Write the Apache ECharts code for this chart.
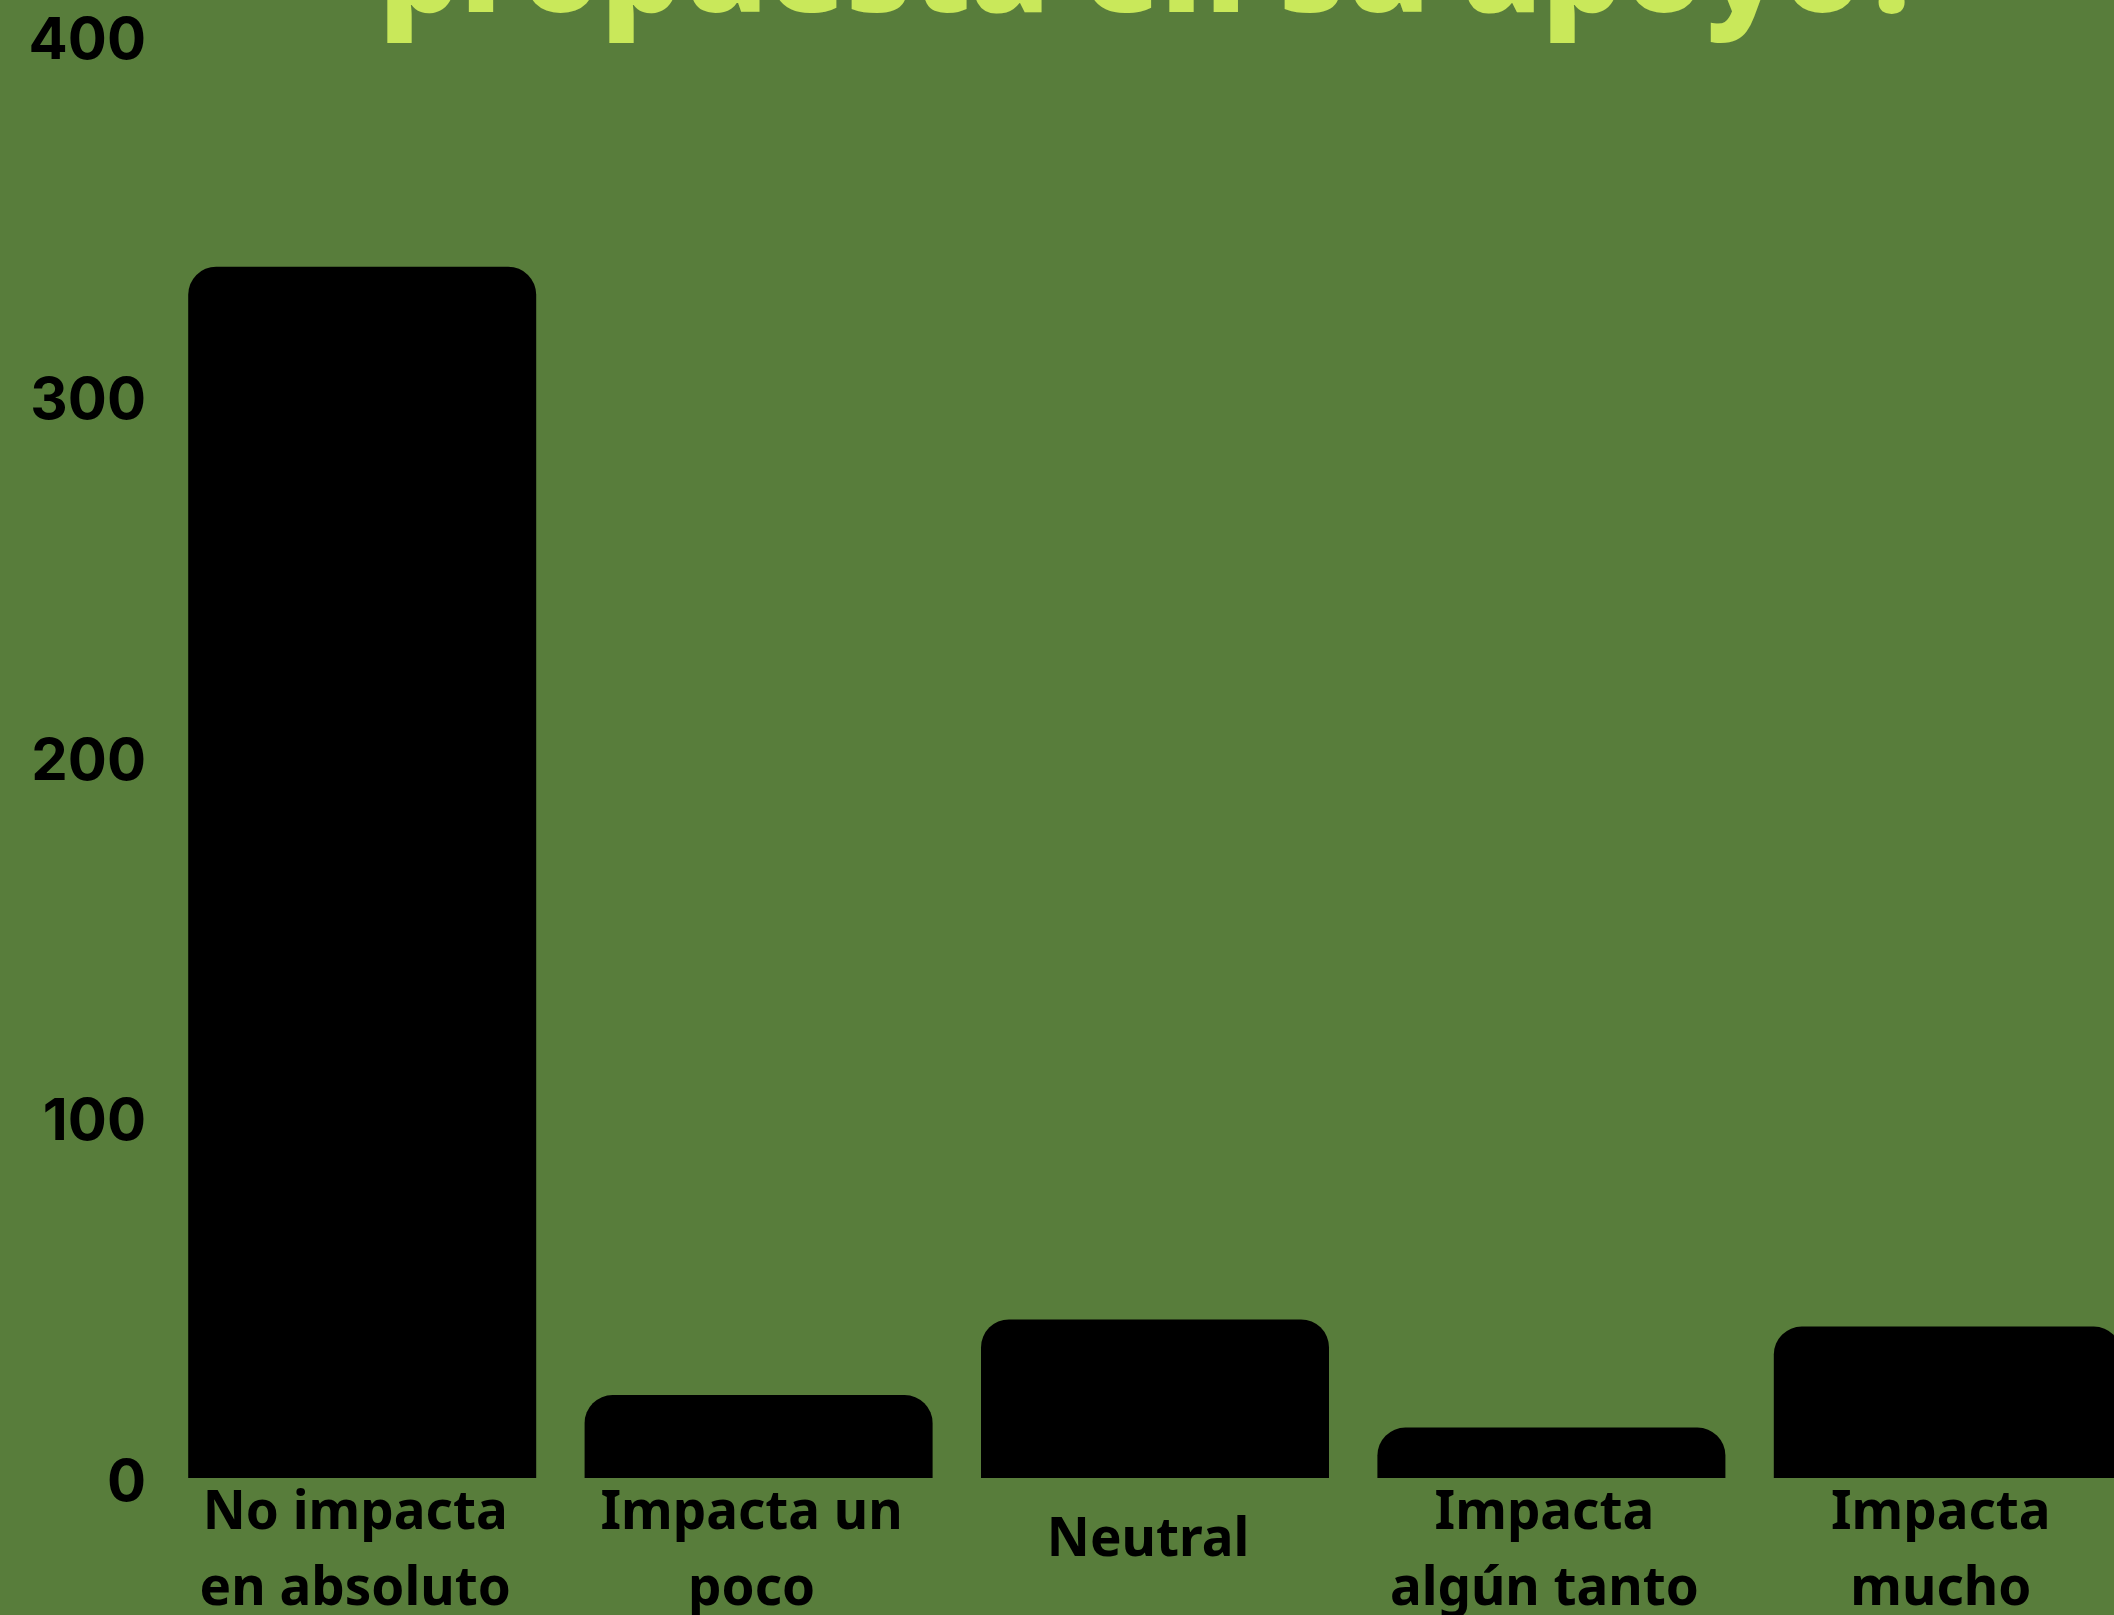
<!DOCTYPE html>
<html>
<head>
<meta charset="utf-8">
<script src="https://cdn.jsdelivr.net/npm/echarts@6/dist/echarts.min.js"></script>
<style>
html,body{margin:0;padding:0;background:#587d3b;}
#chart{width:2114px;height:1615px;}
</style>
</head>
<body>
<div id="chart"></div>
<script>
var titleLine = 'propuesta en su apoyo?';
var categories = ['No impacta\nen absoluto', 'Impacta un\npoco', 'Neutral', 'Impacta\nalgún tanto', 'Impacta\nmucho'];
var values = [336, 23, 44, 14, 42];
var yTicks = [0, 100, 200, 300, 400];

var chart = echarts.init(document.getElementById('chart'));
chart.setOption({
  backgroundColor: '#587d3b',
  animation: false,
  grid: { left: 164, right: -32, top: 36, bottom: 137, containLabel: false, outerBoundsMode: 'none' },
  graphic: [{
    type: 'text',
    x: 1153,
    y: -24,
    style: {
      text: titleLine,
      x: 0, y: 0,
      textAlign: 'center',
      textVerticalAlign: 'middle',
      fill: '#c9e85a',
      font: '800 127px "Open Sans"'
    }
  }],
  xAxis: {
    type: 'category',
    data: categories,
    axisLine: { show: false },
    axisTick: { show: false },
    axisLabel: {
      interval: 0,
      margin: -2,
      padding: [0, 14, 0, 0],
      color: '#000',
      fontFamily: 'Noto Sans',
      fontWeight: 'bold',
      fontSize: 53,
      lineHeight: 76,
      formatter: function (v) { return v === 'Neutral' ? '{n|' + v + '}' : v; },
      rich: {
        n: { padding: [54, 0, 0, 0], color: '#000', fontFamily: 'Noto Sans', fontWeight: 'bold', fontSize: 53, lineHeight: 76 }
      }
    }
  },
  yAxis: {
    type: 'value',
    min: yTicks[0],
    max: yTicks[yTicks.length - 1],
    interval: 100,
    axisLine: { show: false },
    axisTick: { show: false },
    splitLine: { show: false },
    axisLabel: {
      margin: 18,
      formatter: function (v) { return '{a|' + v + '}'; },
      rich: {
        a: { padding: [11, 0, 0, 0], color: '#000', fontFamily: 'Inter', fontWeight: 'bold', fontSize: 58 }
      },
      color: '#000',
      fontFamily: 'Inter',
      fontWeight: 'bold',
      fontSize: 58
    }
  },
  series: [{
    type: 'bar',
    data: values,
    barWidth: 348,
    itemStyle: { color: '#000', borderRadius: [28, 28, 0, 0] }
  }]
});
</script>
</body>
</html>
